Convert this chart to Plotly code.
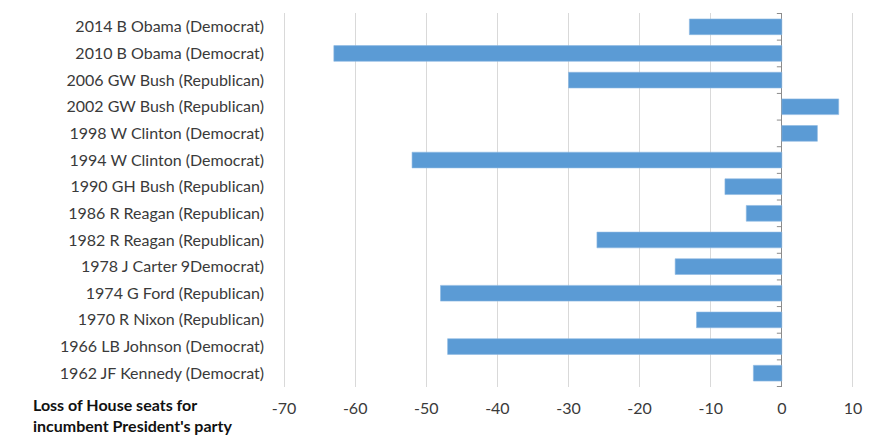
import plotly.graph_objects as go

# Midterm election results, most recent first
categories = [
    "2014 B Obama (Democrat)",
    "2010 B Obama (Democrat)",
    "2006 GW Bush (Republican)",
    "2002 GW Bush (Republican)",
    "1998 W Clinton (Democrat)",
    "1994 W Clinton (Democrat)",
    "1990 GH Bush (Republican)",
    "1986 R Reagan (Republican)",
    "1982 R Reagan (Republican)",
    "1978 J Carter 9Democrat)",
    "1974 G Ford (Republican)",
    "1970 R Nixon (Republican)",
    "1966 LB Johnson (Democrat)",
    "1962 JF Kennedy (Democrat)",
]
seat_change = [-13, -63, -30, 8, 5, -52, -8, -5, -26, -15, -48, -12, -47, -4]
x_ticks = [-70, -60, -50, -40, -30, -20, -10, 0, 10]

axis_title = "Loss of House seats for<br>incumbent President's party"

FONT = "Lato"
TEXT = "#3a3a3a"

fig = go.Figure(
    go.Bar(
        x=seat_change,
        y=categories,
        orientation="h",
        marker=dict(color="#5b9bd5", line=dict(color="#8db9e3", width=0.6)),
        hoverinfo="x+y",
    )
)

# small tick marks on the zero axis between categories
tick_shapes = []
for i in range(len(categories) + 1):
    tick_shapes.append(
        dict(
            type="line", xref="x", yref="y",
            x0=-0.7, x1=0, y0=i - 0.5, y1=i - 0.5,
            line=dict(color="#8c8c8c", width=1),
        )
    )

fig.update_layout(
    width=877,
    height=437,
    margin=dict(l=283, r=23, t=13, b=50),
    paper_bgcolor="white",
    plot_bgcolor="white",
    bargap=0.41,
    showlegend=False,
    font=dict(family=FONT, size=16, color=TEXT),
    shapes=tick_shapes,
    xaxis=dict(
        range=[-70.15, 10.15],
        tickmode="array",
        tickvals=x_ticks,
        ticktext=[str(v) for v in x_ticks],
        showgrid=True,
        gridcolor="#d9d9d9",
        gridwidth=1,
        zeroline=True,
        zerolinecolor="#8c8c8c",
        zerolinewidth=1,
        showline=False,
        ticks="",
        ticklabelstandoff=10,
        tickfont=dict(family=FONT, size=16, color=TEXT),
    ),
    yaxis=dict(
        autorange="reversed",
        showgrid=False,
        zeroline=False,
        showline=False,
        ticks="",
        ticklabelstandoff=18,
        tickfont=dict(family=FONT, size=16, color=TEXT),
    ),
    annotations=[
        dict(
            text="<b>" + axis_title + "</b>",
            xref="paper", yref="paper",
            x=-0.441, y=-0.015,
            xanchor="left", yanchor="top",
            align="left",
            showarrow=False,
            font=dict(family=FONT, size=16, color="#111111"),
        )
    ],
)

fig.write_html("out.html")
